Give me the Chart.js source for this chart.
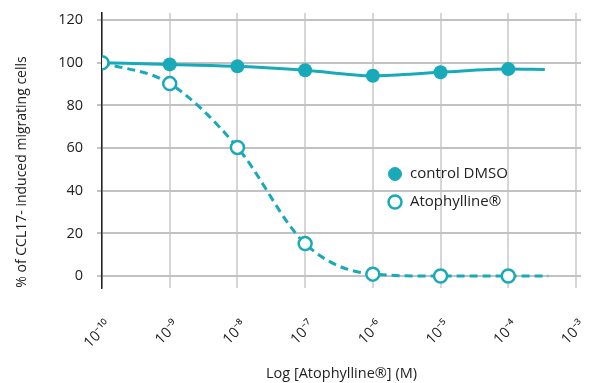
<!DOCTYPE html>
<html>
<head>
<meta charset="utf-8">
<script src="https://cdn.jsdelivr.net/npm/chart.js@4.4.1/dist/chart.umd.min.js"></script>
<style>
  html, body { margin: 0; padding: 0; background: #fff; }
  #wrap { width: 592px; height: 383px; position: relative; }
</style>
</head>
<body>
<div id="wrap"><canvas id="chart"></canvas></div>
<script>
// --- DATA ---
// x = log10 of concentration (M)
const decades = [-10, -9, -8, -7, -6, -5, -4, -3];
const controlX = [-10, -9, -8, -7, -6, -5, -4, -3.46];
const controlY = [100, 99.2, 98.3, 96.5, 93.9, 95.5, 97.0, 96.8];
const atoX = [-10, -9, -8, -7, -6, -5, -4, -3.41];
const atoY = [100, 90.2, 60.3, 15.2, 0.9, 0, 0, 0];
const yTicks = [0, 20, 40, 60, 80, 100, 120];

const seriesNames = ['control DMSO', 'Atophylline\u00AE'];
const xTitle = 'Log [Atophylline\u00AE] (M)';
const yTitle = '% of CCL17- induced migrating cells';

const teal = '#19aab9';
const FONT = 'Open Sans';

const sup = { '-': '\u207B', '0': '\u2070', '1': '\u00B9', '2': '\u00B2', '3': '\u00B3', '4': '\u2074',
  '5': '\u2075', '6': '\u2076', '7': '\u2077', '8': '\u2078', '9': '\u2079' };
function powLabel(v) { return '10' + String(v).split('').map(c => sup[c]).join(''); }

function pts(xs, ys) { return xs.map((x, i) => ({ x, y: ys[i] })); }
// only a marker where the measurement sits, not at the line end
function markerSizes(xs, r) { return xs.map(x => Number.isInteger(x) ? r : 0); }

// --- PLUGINS ---
const extras = {
  id: 'extras',
  afterDraw(chart) {
    const c = chart.ctx;
    const ds = chart.data.datasets;
    c.save();
    // y title
    c.fillStyle = '#222';
    c.font = '14px "' + FONT + '"';
    c.textAlign = 'center';
    c.textBaseline = 'middle';
    c.translate(22, 172);
    c.rotate(-Math.PI / 2);
    c.fillText(yTitle, 0, 0);
    c.restore();

    // legend inside the plot
    c.save();
    c.font = '15px "' + FONT + '"';
    c.textBaseline = 'middle';
    c.textAlign = 'left';
    const order = [1, 0];
    order.forEach((di, row) => {
      const d = ds[di];
      const y = 174 + row * 28;
      c.beginPath();
      c.arc(395, y, 6.5, 0, Math.PI * 2);
      c.fillStyle = d.pointBackgroundColor;
      c.fill();
      c.lineWidth = d.pointBorderWidth;
      c.strokeStyle = d.pointBorderColor;
      c.stroke();
      c.fillStyle = '#222';
      c.fillText(d.label, 410, y);
    });
    c.restore();
  }
};

function noPad(s) { s.paddingTop = 0; s.paddingBottom = 0; s.paddingLeft = 0; s.paddingRight = 0; }

// --- CHART ---
const ctx = document.getElementById('chart').getContext('2d');
new Chart(ctx, {
  type: 'scatter',
  data: {
    datasets: [
      {
        label: seriesNames[1],
        data: pts(atoX, atoY),
        showLine: true,
        borderColor: teal,
        borderWidth: 3,
        borderDash: [8, 5],
        cubicInterpolationMode: 'monotone',
        pointRadius: markerSizes(atoX, 6.5),
        pointBackgroundColor: '#fff',
        pointBorderColor: teal,
        pointBorderWidth: 2.5,
        order: 0
      },
      {
        label: seriesNames[0],
        data: pts(controlX, controlY),
        showLine: true,
        borderColor: teal,
        borderWidth: 3,
        cubicInterpolationMode: 'monotone',
        pointRadius: markerSizes(controlX, 7),
        pointBackgroundColor: teal,
        pointBorderColor: teal,
        pointBorderWidth: 0,
        order: 1
      }
    ]
  },
  options: {
    responsive: true,
    maintainAspectRatio: false,
    animation: false,
    layout: { padding: { top: 13, right: 11, left: 0, bottom: 0 } },
    plugins: { legend: { display: false }, tooltip: { enabled: false } },
    scales: {
      x: {
        type: 'linear',
        min: -10,
        max: -2.926,
        afterBuildTicks: s => { s.ticks = decades.map(v => ({ value: v })); },
        afterFit: s => { s.height = 95; noPad(s); },
        grid: { color: '#d6d6d6', lineWidth: 2, drawTicks: false },
        border: { display: false },
        ticks: {
          minRotation: 45, maxRotation: 45, padding: 29, labelOffset: 7,
          color: '#222', font: { family: FONT, size: 14.5 },
          callback: v => powLabel(v)
        },
        title: {
          display: true, text: xTitle, color: '#222',
          font: { family: FONT, size: 14.5 }, padding: { top: 0, bottom: 0 }
        }
      },
      y: {
        min: -5.6,
        max: 123.3,
        afterBuildTicks: s => { s.ticks = yTicks.map(v => ({ value: v })); },
        afterFit: s => { s.width = 102; noPad(s); },
        grid: { color: '#c2c2c6', lineWidth: 2, tickLength: 5 },
        border: { color: '#222', width: 1.5 },
        ticks: { color: '#222', padding: 14, font: { family: FONT, size: 14.5 } }
      }
    }
  },
  plugins: [extras]
});
</script>
</body>
</html>
